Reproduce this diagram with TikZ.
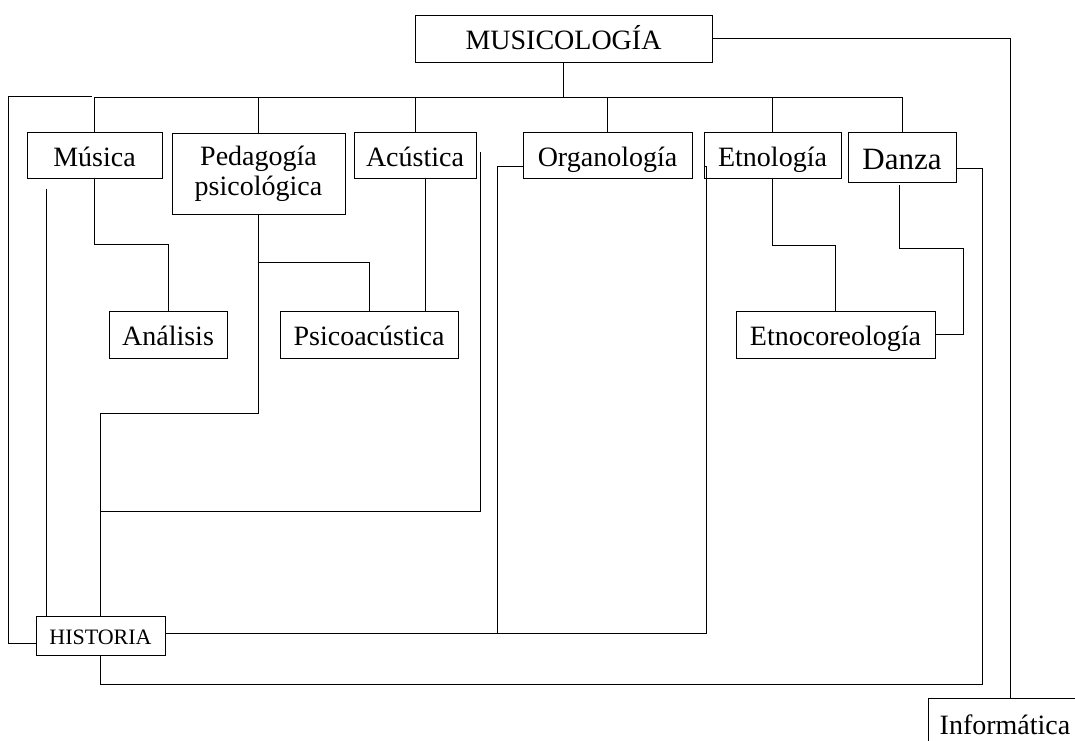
\documentclass[tikz,border=0pt]{standalone}
\usepackage{fontspec}
\setmainfont{Liberation Serif}
\begin{document}
\begin{tikzpicture}[x=1pt,y=-1pt,
  box/.style={draw, line width=1pt, inner sep=0pt, align=center,
              font=\fontsize{28}{30}\selectfont},
  oneline/.style={box, text height=24pt, text depth=2pt},
  link/.style={line width=1pt}]
\useasboundingbox (0,0) rectangle (1075,740);
\clip (0,0) rectangle (1075,740);

% boxes
\node[oneline, minimum width=297pt, minimum height=47pt] (mus)   at (563.5,38.5) {MUSICOLOGÍA};
\node[oneline, minimum width=135pt, minimum height=46pt] (musica) at (94.5,155)  {Música};
\node[box, minimum width=173pt, minimum height=81pt]     (ped)   at (258.5,173.5) {Pedagogía\\psicológica};
\node[oneline, minimum width=122pt, minimum height=46pt] (acu)   at (415,155)    {Acústica};
\node[oneline, minimum width=169pt, minimum height=46pt] (org)   at (607.5,155)  {Organología};
\node[oneline, minimum width=137pt, minimum height=46pt] (etn)   at (772.5,155)  {Etnología};
\node[oneline, minimum width=108pt, minimum height=50pt,
      font=\fontsize{31}{34}\selectfont, text height=26pt] (danza) at (902,157) {Danza};
\node[oneline, minimum width=118pt, minimum height=47pt] (ana)   at (168,334.5)  {Análisis};
\node[oneline, minimum width=178pt, minimum height=47pt] (psico) at (369,334.5)  {Psicoacústica};
\node[oneline, minimum width=199pt, minimum height=47pt] (etnoc) at (835.5,334.5) {Etnocoreología};
\node[oneline, minimum width=129pt, minimum height=39pt,
      font=\fontsize{22}{25}\selectfont, text height=18pt, text depth=1pt] (hist) at (100.5,635.5) {HISTORIA};
\node[oneline, minimum width=154pt, minimum height=50pt] (inf)   at (1005,723)   {Informática};

% free ends of some connectors
\coordinate (loopend) at (92,96);
\coordinate (mtail)   at (46,189);
\coordinate (atail)   at (480,152);
\coordinate (dtail)   at (899,185);

% main tree
\draw[link] (mus.east) -| ([xshift=5pt]inf.north);
\draw[link] (mus.south) -- (mus.south |- 0,97);
\draw[link] (musica.north |- 0,97) -- (danza.north |- 0,97);
\foreach \n in {musica,ped,acu,org,etn,danza}
  \draw[link] (\n.north) -- (\n.north |- 0,97);

% left loop into HISTORIA
\draw[link] (loopend) -| ([xshift=-27pt,yshift=-7.5pt]hist.west) -- ([yshift=-7.5pt]hist.west);
\draw[link] (mtail) -- (mtail |- hist.north);

% Música -> Análisis
\draw[link] (musica.south) -- (musica.south |- 0,244) -| (ana.north);

% Pedagogía -> Psicoacústica and HISTORIA
\draw[link] (ped.south) -- (ped.south |- 0,413) -| (hist.north);
\draw[link] (ped.south |- 0,262) -| (psico.north);

% Acústica -> Psicoacústica and HISTORIA
\draw[link] ([xshift=10pt]acu.south) -- ([xshift=10pt]acu.south |- psico.north);
\draw[link] (atail) |- (hist.north |- 0,511);

% Organología and Etnología -> HISTORIA
\draw[link] ([yshift=-11pt]org.west) -- (497,166) -- (497,633);
\draw[link] ([yshift=-11pt]etn.west) -- ++(3,0) |- ([yshift=2.5pt]hist.east);

% Etnología, Danza -> Etnocoreología
\draw[link] (etn.south) -- (etn.south |- 0,245) -| (etnoc.north);
\draw[link] (dtail) -- (899,248) -- (963,248) |- (etnoc.east);

% Danza -> HISTORIA
\draw[link] ([yshift=-11pt]danza.east) -- (982,168) -- (982,684) -| (hist.south);
\end{tikzpicture}
\end{document}
